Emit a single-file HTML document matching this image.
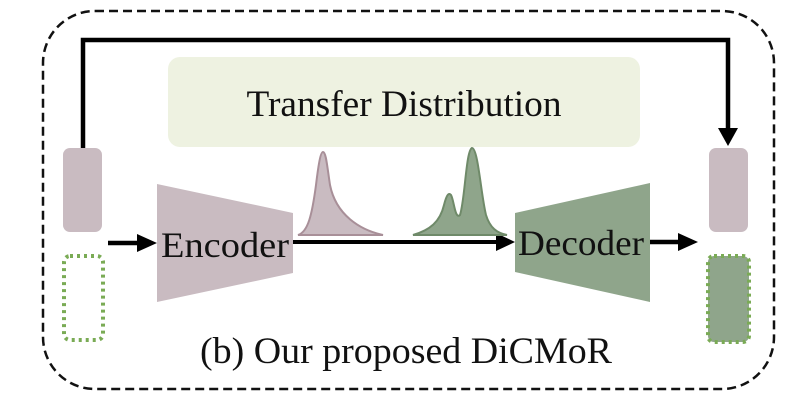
<!DOCTYPE html>
<html><head><meta charset="utf-8"><style>
html,body{margin:0;padding:0;background:#fff;}
svg{display:block;}
text{font-family:"Liberation Serif",serif;fill:#111;}
</style></head><body>
<svg width="792" height="404" viewBox="0 0 792 404" xmlns="http://www.w3.org/2000/svg">
<rect x="43" y="11" width="731" height="378" rx="52" fill="none" stroke="#111" stroke-width="2.5" stroke-dasharray="9,5"/>
<rect x="168" y="57" width="472" height="90" rx="12" fill="#eef2e1"/>
<text x="404" y="116" font-size="37" text-anchor="middle" textLength="315" lengthAdjust="spacingAndGlyphs">Transfer Distribution</text>
<polyline points="83,148 83,40 728,40 728,132" fill="none" stroke="#000" stroke-width="4.5"/>
<polygon points="718,128 738,128 728,146" fill="#000"/>
<rect x="63" y="148" width="39" height="84" rx="7" fill="#c9bbc1"/>
<rect x="64" y="256" width="39" height="84" rx="6" fill="none" stroke="#7aab55" stroke-width="4" stroke-dasharray="3,4"/>
<rect x="709" y="148" width="39" height="84" rx="7" fill="#c9bbc1"/>
<rect x="708" y="256" width="41" height="86" rx="6" fill="#8fa58b" stroke="#7aab55" stroke-width="4" stroke-dasharray="3,4"/>
<line x1="108" y1="243" x2="142" y2="243" stroke="#000" stroke-width="4.5"/>
<polygon points="137,234 157,243 137,252" fill="#000"/>
<polygon points="157,184 293,213 293,273 157,302" fill="#c9bbc1"/>
<text x="225" y="257" font-size="36" text-anchor="middle" textLength="128" lengthAdjust="spacingAndGlyphs">Encoder</text>
<line x1="293" y1="242" x2="500" y2="242" stroke="#000" stroke-width="4"/>
<polygon points="496,233 515,242 496,251" fill="#000"/>
<polygon points="515,213 650,183 650,302 515,272" fill="#8fa58b"/>
<text x="581" y="255" font-size="36" text-anchor="middle" textLength="126" lengthAdjust="spacingAndGlyphs">Decoder</text>
<line x1="650" y1="242" x2="683" y2="242" stroke="#000" stroke-width="4.5"/>
<polygon points="678,233 698,242 678,251" fill="#000"/>
<path d="M298,235 C308,232 312,215 316,185 C319,160 321,152 323,152 C326,152 327,165 330,185 C336,215 360,230 383,235 Z" fill="#c9bbc1" stroke="#a88f98" stroke-width="2"/>
<path d="M413,235 C430,230 440,222 444,205 C447,193 449,193 451,195 C454,200 455,220 460,215 C465,200 466,150 472,148 C478,148 481,195 486,215 C490,228 497,233 507,235 Z" fill="#8fa58b" stroke="#6f8a69" stroke-width="2"/>
<text x="406" y="363" font-size="37" text-anchor="middle" textLength="412" lengthAdjust="spacingAndGlyphs">(b) Our proposed DiCMoR</text>
</svg>
</body></html>
